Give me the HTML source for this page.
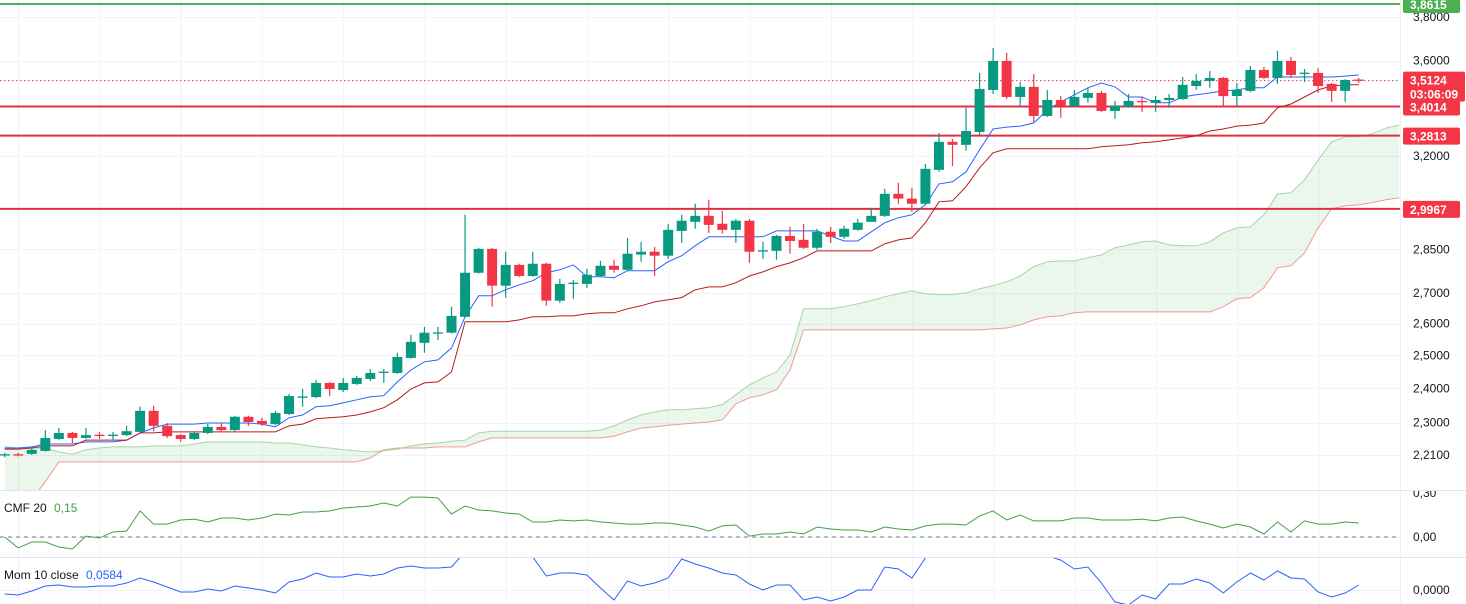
<!DOCTYPE html>
<html><head><meta charset="utf-8">
<style>
html,body{margin:0;padding:0;background:#fff;}
svg{display:block;font-family:"Liberation Sans",sans-serif;}
</style></head>
<body>
<svg id="chart" width="1466" height="604" viewBox="0 0 1466 604">
<defs>
<clipPath id="cp-price"><rect x="0" y="0" width="1400" height="490"/></clipPath>
<clipPath id="cp-cmf"><rect x="0" y="491" width="1400" height="66"/></clipPath>
<clipPath id="cp-mom"><rect x="0" y="558" width="1400" height="46"/></clipPath>
<clipPath id="cp-cmfaxis"><rect x="1401" y="491" width="65" height="66"/></clipPath>
</defs>
<rect x="0" y="0" width="1466" height="604" fill="#ffffff"/>
<g id="grid"></g>
<g id="cloud" clip-path="url(#cp-price)"></g>
<g id="levels"></g>
<g id="lines" clip-path="url(#cp-price)"></g>
<g id="candles" clip-path="url(#cp-price)"></g>
<g id="cmf" clip-path="url(#cp-cmf)"></g>
<g id="mom" clip-path="url(#cp-mom)"></g>
<g id="axis"></g>
<g clip-path="url(#cp-cmfaxis)"><text x="1413" y="497" font-size="12" fill="#131722">0,30</text></g>
<line x1="0" y1="490.5" x2="1466" y2="490.5" stroke="#e0e3eb" stroke-width="1"/>
<line x1="0" y1="557.5" x2="1466" y2="557.5" stroke="#e0e3eb" stroke-width="1"/>
<line x1="1400.5" y1="0" x2="1400.5" y2="604" stroke="#eef0f4" stroke-width="1"/>
<text x="4" y="512" font-size="12" fill="#131722">CMF 20 <tspan fill="#43a047" dx="4">0,15</tspan></text>
<text x="4" y="579" font-size="12" fill="#131722">Mom 10 close <tspan fill="#2962ff" dx="4">0,0584</tspan></text>
</svg>
<script>
const open=[2.210,2.212,2.213,2.221,2.254,2.271,2.257,2.266,2.264,2.265,2.274,2.334,2.291,2.265,2.254,2.271,2.288,2.279,2.317,2.305,2.296,2.325,2.374,2.374,2.416,2.395,2.413,2.428,2.449,2.446,2.492,2.539,2.570,2.571,2.622,2.769,2.852,2.725,2.796,2.758,2.800,2.675,2.733,2.731,2.758,2.793,2.779,2.832,2.842,2.828,2.916,2.949,2.971,2.942,2.920,2.953,2.844,2.845,2.898,2.884,2.856,2.913,2.895,2.920,2.949,2.971,3.053,3.035,3.016,3.145,3.256,3.244,3.296,3.472,3.599,3.442,3.485,3.362,3.429,3.404,3.438,3.459,3.383,3.400,3.425,3.417,3.429,3.433,3.489,3.511,3.524,3.446,3.468,3.559,3.524,3.599,3.545,3.546,3.498,3.468,3.517];
const high=[2.216,2.216,2.232,2.279,2.285,2.274,2.285,2.274,2.274,2.291,2.346,2.349,2.299,2.268,2.274,2.296,2.299,2.320,2.320,2.314,2.334,2.383,2.398,2.425,2.419,2.431,2.437,2.458,2.458,2.508,2.564,2.590,2.590,2.655,2.975,2.855,2.855,2.842,2.800,2.842,2.803,2.748,2.745,2.783,2.810,2.814,2.891,2.877,2.859,2.942,2.975,3.016,3.031,2.989,2.960,2.960,2.877,2.902,2.931,2.942,2.924,2.931,2.935,2.960,3.001,3.072,3.095,3.076,3.168,3.292,3.268,3.396,3.546,3.657,3.635,3.506,3.541,3.472,3.446,3.472,3.481,3.468,3.425,3.455,3.442,3.446,3.455,3.528,3.541,3.554,3.528,3.502,3.576,3.572,3.644,3.617,3.563,3.567,3.502,3.519,3.524];
const low=[2.204,2.206,2.210,2.219,2.252,2.243,2.255,2.254,2.251,2.262,2.270,2.276,2.257,2.246,2.251,2.268,2.276,2.276,2.291,2.291,2.293,2.322,2.346,2.371,2.377,2.389,2.410,2.422,2.416,2.443,2.489,2.508,2.548,2.568,2.619,2.766,2.655,2.685,2.755,2.755,2.658,2.668,2.681,2.718,2.755,2.769,2.776,2.807,2.758,2.817,2.873,2.924,2.909,2.906,2.873,2.803,2.817,2.814,2.835,2.852,2.849,2.873,2.888,2.917,2.953,2.967,3.016,2.986,3.012,3.137,3.160,3.220,3.284,3.455,3.433,3.400,3.337,3.358,3.354,3.400,3.417,3.379,3.350,3.396,3.379,3.379,3.396,3.430,3.472,3.481,3.400,3.404,3.463,3.519,3.498,3.524,3.506,3.459,3.421,3.421,3.502];
const close=[2.212,2.209,2.224,2.257,2.271,2.257,2.265,2.264,2.266,2.276,2.334,2.291,2.262,2.254,2.271,2.288,2.279,2.317,2.302,2.296,2.328,2.377,2.376,2.416,2.398,2.416,2.431,2.446,2.450,2.495,2.542,2.571,2.572,2.625,2.769,2.852,2.725,2.796,2.758,2.800,2.675,2.731,2.735,2.762,2.793,2.779,2.835,2.842,2.828,2.920,2.953,2.971,2.938,2.920,2.953,2.842,2.847,2.898,2.880,2.856,2.913,2.895,2.924,2.946,2.971,3.053,3.035,3.016,3.149,3.256,3.244,3.300,3.476,3.599,3.442,3.485,3.362,3.429,3.404,3.442,3.459,3.383,3.404,3.425,3.421,3.429,3.438,3.494,3.511,3.524,3.446,3.472,3.559,3.524,3.599,3.537,3.547,3.489,3.468,3.515,3.512];
const tenkan=[2.229,2.229,2.232,2.240,2.240,2.240,2.246,2.246,2.246,2.251,2.271,2.285,2.296,2.296,2.296,2.299,2.299,2.299,2.299,2.296,2.288,2.314,2.322,2.346,2.349,2.357,2.366,2.375,2.378,2.419,2.455,2.480,2.486,2.523,2.622,2.691,2.691,2.711,2.728,2.742,2.769,2.779,2.796,2.755,2.755,2.752,2.776,2.776,2.776,2.807,2.828,2.863,2.895,2.895,2.895,2.895,2.895,2.916,2.916,2.916,2.916,2.898,2.880,2.880,2.913,2.946,2.964,2.975,3.012,3.091,3.099,3.137,3.224,3.308,3.316,3.320,3.333,3.387,3.421,3.451,3.481,3.502,3.485,3.442,3.442,3.417,3.417,3.442,3.451,3.459,3.468,3.472,3.481,3.481,3.528,3.528,3.528,3.528,3.528,3.532,3.537];
const kijun=[2.226,2.226,2.229,2.235,2.235,2.235,2.251,2.251,2.251,2.251,2.271,2.271,2.274,2.274,2.274,2.274,2.274,2.274,2.274,2.274,2.274,2.291,2.296,2.311,2.314,2.317,2.322,2.331,2.343,2.366,2.398,2.416,2.419,2.449,2.606,2.606,2.606,2.606,2.612,2.622,2.622,2.625,2.625,2.632,2.635,2.635,2.648,2.658,2.671,2.678,2.685,2.711,2.721,2.721,2.735,2.758,2.772,2.790,2.803,2.821,2.845,2.845,2.845,2.845,2.845,2.870,2.884,2.891,2.946,3.023,3.027,3.080,3.153,3.212,3.228,3.228,3.228,3.228,3.228,3.228,3.228,3.236,3.240,3.244,3.252,3.256,3.264,3.272,3.280,3.300,3.308,3.320,3.324,3.333,3.396,3.412,3.442,3.472,3.489,3.494,3.494];
const spanA=[2.232,2.229,2.229,2.229,2.218,2.212,2.224,2.229,2.232,2.232,2.232,2.235,2.235,2.235,2.240,2.246,2.246,2.246,2.246,2.246,2.243,2.243,2.238,2.232,2.229,2.224,2.221,2.218,2.221,2.226,2.235,2.240,2.243,2.248,2.251,2.271,2.276,2.276,2.276,2.276,2.276,2.276,2.276,2.276,2.279,2.291,2.308,2.322,2.331,2.337,2.337,2.340,2.343,2.352,2.381,2.410,2.431,2.449,2.501,2.648,2.648,2.648,2.655,2.665,2.675,2.688,2.698,2.708,2.698,2.695,2.695,2.701,2.715,2.725,2.738,2.758,2.790,2.807,2.810,2.810,2.821,2.831,2.856,2.866,2.877,2.880,2.866,2.863,2.863,2.877,2.909,2.927,2.931,2.975,3.053,3.057,3.106,3.184,3.256,3.276,3.276,3.288,3.312,3.324];
const spanB=[2.040,2.040,2.091,2.138,2.191,2.191,2.191,2.191,2.191,2.191,2.191,2.191,2.191,2.191,2.191,2.191,2.191,2.191,2.191,2.191,2.191,2.191,2.191,2.191,2.191,2.191,2.191,2.202,2.224,2.229,2.229,2.229,2.232,2.232,2.232,2.246,2.257,2.257,2.257,2.257,2.257,2.257,2.257,2.257,2.257,2.262,2.274,2.285,2.288,2.293,2.296,2.299,2.302,2.308,2.354,2.372,2.381,2.395,2.455,2.580,2.580,2.580,2.580,2.580,2.580,2.580,2.580,2.580,2.580,2.580,2.580,2.580,2.580,2.583,2.586,2.596,2.612,2.622,2.625,2.635,2.638,2.638,2.638,2.638,2.638,2.638,2.638,2.638,2.638,2.638,2.655,2.681,2.685,2.718,2.786,2.793,2.838,2.927,2.997,3.008,3.012,3.020,3.031,3.038];
const cmf=[0,-0.07,-0.032,-0.032,-0.064,-0.077,0.006,-0.006,0.032,0.038,0.167,0.083,0.083,0.109,0.115,0.096,0.122,0.122,0.109,0.122,0.147,0.141,0.16,0.16,0.167,0.186,0.192,0.199,0.218,0.199,0.256,0.256,0.25,0.147,0.199,0.173,0.167,0.154,0.147,0.096,0.096,0.109,0.103,0.109,0.096,0.09,0.083,0.083,0.09,0.09,0.077,0.064,0.038,0.071,0.077,0.006,0.019,0.019,0.032,0.019,0.064,0.051,0.045,0.045,0.032,0.064,0.051,0.045,0.071,0.083,0.083,0.077,0.135,0.167,0.109,0.141,0.103,0.103,0.103,0.122,0.122,0.109,0.109,0.109,0.115,0.103,0.122,0.128,0.103,0.083,0.058,0.083,0.064,0.019,0.096,0.032,0.103,0.083,0.083,0.096,0.09];
const mom=[-0.047,-0.059,-0.012,0.047,0.059,0.035,0.035,0.047,0.047,0.082,0.14,0.094,0.035,-0.023,-0.023,0.012,-0.012,0.047,0.023,0,-0.035,0.094,0.129,0.199,0.152,0.152,0.187,0.164,0.187,0.257,0.281,0.257,0.257,0.269,0.45,0.62,0.7,0.65,0.5,0.386,0.164,0.199,0.199,0.175,0.023,-0.117,0.105,0.047,0.082,0.14,0.363,0.304,0.257,0.199,0.175,0.07,0,0.059,0.059,-0.117,-0.082,-0.129,-0.082,0,0,0.269,0.246,0.14,0.374,0.5,0.65,0.75,0.8,0.78,0.7,0.6,0.45,0.4,0.35,0.246,0.269,0.082,-0.14,-0.176,-0.059,-0.105,0.07,0.07,0.129,0.082,-0.035,0.094,0.199,0.117,0.222,0.14,0.129,-0.023,-0.082,-0.035,0.059];
const tickValues=[3.8,3.6,3.2,2.85,2.7,2.6,2.5,2.4,2.3,2.21];
const tickLabels=["3,8000","3,6000","3,2000","2,8500","2,7000","2,6000","2,5000","2,4000","2,3000","2,2100"];
const levelValues=[3.8615,3.4014,3.2813,2.9967];
const levelLabels=["3,8615","3,4014","3,2813","2,9967"];
const lastPrice=3.5124;
const lastLabel="3,5124";
const countdown="03:06:09";

const NS="http://www.w3.org/2000/svg";
const LN38=Math.log(3.8);
function yP(p){return 17+(LN38-Math.log(p))*808;}
function xI(i){return 4.7+13.54*i;}
function yC(v){return 537-v*156;}
function yM(v){return 590-v/0.0117;}
function mk(tag,attrs,parent){const e=document.createElementNS(NS,tag);for(const k in attrs)e.setAttribute(k,attrs[k]);parent.appendChild(e);return e;}
const G=id=>document.getElementById(id);

const grid=G('grid');
for(let k=0;k<17;k++){const x=18.5+81.3*k;
 const l=mk('line',{x1:x,y1:0,x2:x,y2:604,stroke:'#f0f3fa','stroke-width':1},grid);
 
 }
tickValues.forEach(v=>{const y=Math.round(yP(v))+0.5;
 const l=mk('line',{x1:0,y1:y,x2:1400,y2:y,stroke:'#f0f3fa','stroke-width':1},grid);
 
 });
[537,590].forEach(y=>{const l=mk('line',{x1:0,y1:y+0.5,x2:1400,y2:y+0.5,stroke:'#f0f3fa'},grid);
 
 });

const cloud=G('cloud');
let pa=spanA.map((v,i)=>xI(i).toFixed(1)+','+yP(v).toFixed(1));
let pb=spanB.map((v,i)=>xI(i).toFixed(1)+','+yP(v).toFixed(1));
const fill=mk('polygon',{points:pa.concat(pb.slice().reverse()).join(' '),fill:'rgba(76,175,80,0.11)'},cloud);


const la=mk('polyline',{points:pa.join(' '),fill:'none',stroke:'#a5d6a7','stroke-width':1},cloud);


const lb=mk('polyline',{points:pb.join(' '),fill:'none',stroke:'#ef9a9a','stroke-width':1},cloud);



const lv=G('levels');
const lastY=yP(lastPrice);
const dl=mk('line',{x1:0,y1:lastY,x2:1400,y2:lastY,stroke:'#e04050','stroke-width':1,'stroke-dasharray':'1.5 2.5'},lv);


levelValues.forEach((v,i)=>{const y=yP(v);
 const l=mk('line',{x1:0,y1:y,x2:1400,y2:y,stroke:i===0?'#4caf50':'#e0303f','stroke-width':2},lv);
 
 });

const lines=G('lines');
const tk=mk('polyline',{points:tenkan.map((v,i)=>xI(i).toFixed(1)+','+yP(v).toFixed(1)).join(' '),fill:'none',stroke:'#2962ff','stroke-width':1},lines);


const kj=mk('polyline',{points:kijun.map((v,i)=>xI(i).toFixed(1)+','+yP(v).toFixed(1)).join(' '),fill:'none',stroke:'#b71c1c','stroke-width':1},lines);



const cg=G('candles');
open.forEach((o,i)=>{const c=close[i];const up=c>=o;const col=up?'#089981':'#f23645';
 const x=xI(i);const g=mk('g',{},cg);
 
 
 mk('line',{x1:x,y1:yP(high[i]),x2:x,y2:yP(low[i]),stroke:col,'stroke-width':1.2},g);
 const t=yP(Math.max(o,c)),b=yP(Math.min(o,c));
 mk('rect',{x:x-5,y:t,width:10,height:Math.max(1.3,b-t),fill:col},g);});

const cm=G('cmf');
const z=mk('line',{x1:0,y1:537,x2:1400,y2:537,stroke:'#787b86','stroke-width':1,'stroke-dasharray':'4 4'},cm);


const cl=mk('polyline',{points:cmf.map((v,i)=>xI(i).toFixed(1)+','+yC(v).toFixed(1)).join(' '),fill:'none',stroke:'#43a047','stroke-width':1},cm);



const mm=G('mom');
const ml=mk('polyline',{points:mom.map((v,i)=>xI(i).toFixed(1)+','+yM(v).toFixed(1)).join(' '),fill:'none',stroke:'#2962ff','stroke-width':1},mm);



const ax=G('axis');
tickValues.forEach((v,i)=>{const t=mk('text',{x:1413,y:yP(v)+4,'font-size':12,fill:'#131722'},ax);t.textContent=tickLabels[i];
 
 });
[['0,00',541],['0,0000',594]].forEach(a=>{const t=mk('text',{x:1413,y:a[1],'font-size':12,fill:'#131722'},ax);t.textContent=a[0];
 
 });
function badge(y,h,col,lines,name){const g=mk('g',{},ax);
 
 
 mk('rect',{x:1403,y:y,width:lines.length>1?62:57,height:h,rx:2,fill:col},g);
 lines.forEach((s,k)=>{const t=mk('text',{x:1410,y:y+13+k*14,'font-size':12,'font-weight':'bold',fill:'#fff'},g);t.textContent=s;});}
levelValues.forEach((v,i)=>{const y=yP(v);badge(y-8,17,i===0?'#4caf50':'#f23645',[levelLabels[i]],'level-price-label');});
badge(lastY-9,30,'#f23645',[lastLabel,countdown],'last-price-label');
</script>
</body></html>
